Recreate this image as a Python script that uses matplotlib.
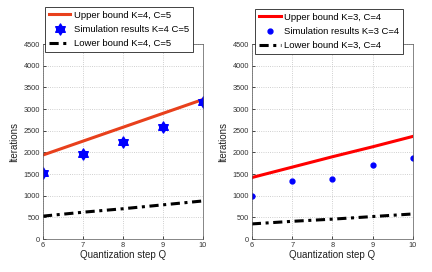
import numpy as np
import matplotlib
matplotlib.use('Agg')
import matplotlib.pyplot as plt
from matplotlib.path import Path

plt.rcParams['font.family'] = ['Liberation Sans', 'DejaVu Sans']

q = [6, 7, 8, 9, 10]

# painel esquerdo K=4, C=5
sup_a = [1940, 2260, 2580, 2900, 3220]
sim_a = [1520, 1960, 2230, 2590, 3170]
inf_a = [530, 620, 700, 790, 880]

# painel direito K=3, C=4
sup_b = [1420, 1660, 1900, 2130, 2370]
sim_b = [1000, 1340, 1380, 1700, 1870]
inf_b = [350, 410, 460, 520, 580]

yticks = [0, 500, 1000, 1500, 2000, 2500, 3000, 3500, 4000, 4500]

# hexagrama estilo matlab
ang1 = np.deg2rad([90, 210, 330])
ang2 = np.deg2rad([270, 30, 150])
verts = [(np.cos(a), np.sin(a)) for a in ang1] + [(0, 0)] + \
        [(np.cos(a), np.sin(a)) for a in ang2] + [(0, 0)]
codes = [Path.MOVETO, Path.LINETO, Path.LINETO, Path.CLOSEPOLY] * 2
hexa = Path(verts, codes)

fig = plt.figure(figsize=(4.32, 2.72), dpi=100)
ax1 = fig.add_axes([0.0995, 0.121, 0.370, 0.717])
ax2 = fig.add_axes([0.583, 0.121, 0.373, 0.717])

ax1.plot(q, sup_a, color='#e8401c', lw=2.2, label='Upper bound K=4, C=5')
ax1.plot(q, sim_a, ls='none', marker=hexa, ms=8, color='blue', mec='blue',
         label='Simulation results K=4 C=5')
ax1.plot(q, inf_a, color='black', lw=2.2, ls=(0, (3, 1.5, 1, 1.5)),
         label='Lower bound K=4, C=5')

ax2.plot(q, sup_b, color='red', lw=2.2, label='Upper bound K=3, C=4')
ax2.plot(q, sim_b, ls='none', marker='o', ms=3.5, color='blue',
         label='Simulation results K=3 C=4')
ax2.plot(q, inf_b, color='black', lw=2.2, ls=(0, (3, 1.5, 1, 1.5)),
         label='Lower bound K=3, C=4')

for ax, anchor in ((ax1, (0.012, 1.19)), (ax2, (0.02, 1.18))):
    ax.set_xlim(6, 10)
    ax.set_ylim(0, 4500)
    ax.set_xticks(q)
    ax.set_yticks(yticks)
    ax.tick_params(labelsize=5.3, length=2, width=0.5, direction='in', pad=2,
                   labelcolor='#333333')
    ax.grid(True, ls=':', lw=0.6, color='#c0c0c0')
    for s in ax.spines.values():
        s.set_linewidth(0.5)
        s.set_color('#555555')
    ax.set_xlabel('Quantization step Q', fontsize=7, labelpad=1, color='#222222')
    ax.set_ylabel('Iterations', fontsize=7, labelpad=3, color='#222222')
    leg = ax.legend(loc='upper left', bbox_to_anchor=anchor, fontsize=6.8,
                    frameon=True, fancybox=False, borderpad=0.4,
                    labelspacing=0.55, handlelength=2.3, handletextpad=0.35,
                    borderaxespad=0)
    leg.get_frame().set_edgecolor('#222222')
    leg.get_frame().set_linewidth(0.6)
    leg.get_frame().set_alpha(1)

fig.savefig('out.png', dpi=100)
